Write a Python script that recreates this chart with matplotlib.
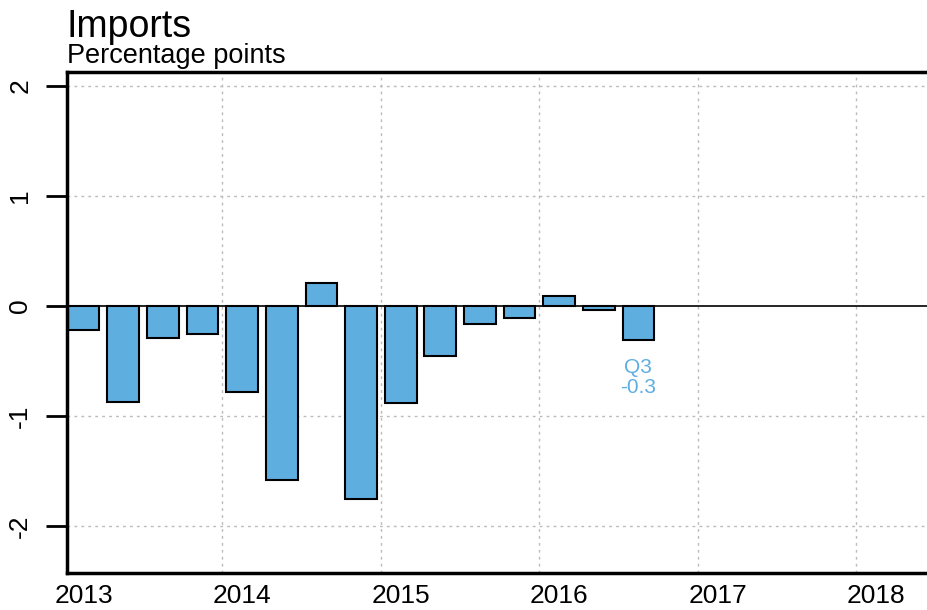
import matplotlib.pyplot as plt
import numpy as np

plt.rcParams['font.family'] = ['Liberation Sans', 'DejaVu Sans']

# quarterly contributions, 2013 Q1 .. 2016 Q3
years = [2013, 2013, 2013, 2013, 2014, 2014, 2014, 2014,
         2015, 2015, 2015, 2015, 2016, 2016, 2016]
quarters = [1, 2, 3, 4, 1, 2, 3, 4, 1, 2, 3, 4, 1, 2, 3]
values = [-0.22, -0.87, -0.29, -0.25, -0.78, -1.58, 0.21, -1.75,
          -0.88, -0.45, -0.16, -0.11, 0.09, -0.04, -0.31]
tick_years = [2013, 2014, 2015, 2016, 2017, 2018]
last_label = "Q3\n-0.3"

bar_color = '#5FAEE0'
grid_color = '#BBBBBB'

x = np.array(years) + (np.array(quarters) - 0.5) / 4

fig = plt.figure(figsize=(9.28, 6.10), dpi=100)
ax = fig.add_axes([67 / 928, 37 / 610, 868 / 928, 501 / 610])

# grid first so bars sit on top
for yv in [-2, -1, 1, 2]:
    ax.axhline(yv, color=grid_color, lw=1, ls=(0, (2, 3)), zorder=0)
for yr in tick_years[1:]:
    ax.axvline(yr, color=grid_color, lw=1, ls=(0, (2, 3)), zorder=0)

ax.bar(x, values, width=0.2, color=bar_color, edgecolor='black', linewidth=1.5, zorder=2)
ax.axhline(0, color='black', lw=1.2, zorder=3)

# label for the latest quarter
ax.text(x[-1], -0.65, last_label, color=bar_color, fontsize=15,
        ha='center', va='center', linespacing=1.12)

ax.set_xlim(2013.02, 2018.496)
ax.set_ylim(-2.427, 2.127)

ax.set_yticks([-2, -1, 0, 1, 2])
ax.set_yticklabels(['-2', '-1', '0', '1', '2'], rotation=90, va='center')
ax.set_xticks(np.array(tick_years) + 0.125)
ax.set_xticklabels([str(y) for y in tick_years])

ax.tick_params(axis='y', length=15, width=2, labelsize=19, pad=10, direction='out')
ax.tick_params(axis='x', length=0, labelsize=19, pad=8)

for side in ['left', 'bottom', 'top']:
    ax.spines[side].set_linewidth(2.5)
ax.spines['right'].set_visible(False)

fig.text(67 / 928, 1 - 37 / 610, 'Imports', fontsize=27, va='baseline', ha='left')
fig.text(67 / 928, 1 - 63 / 610, 'Percentage points', fontsize=19.5, va='baseline', ha='left')

fig.savefig('out.png', dpi=100)
